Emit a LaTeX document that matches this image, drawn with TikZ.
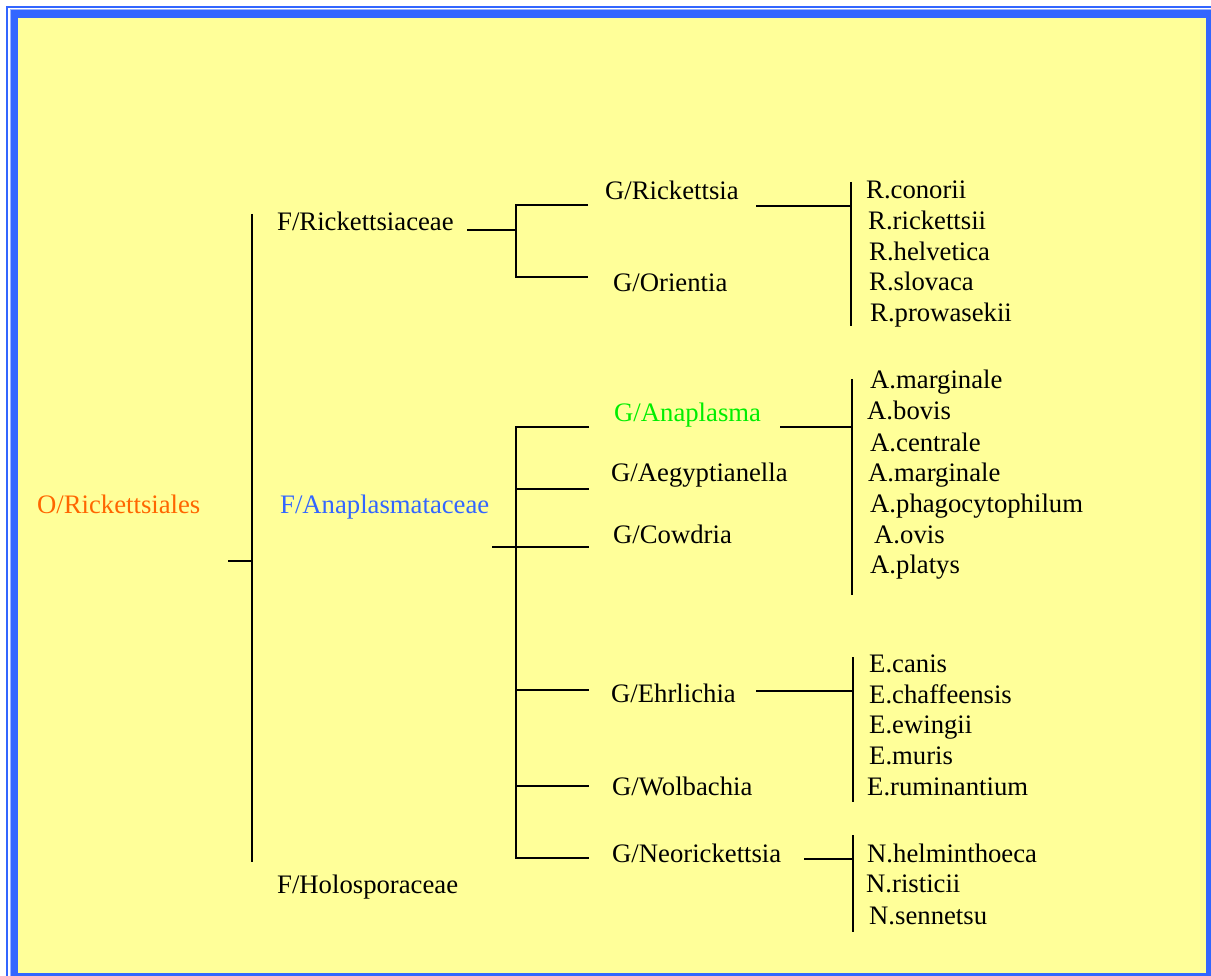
\documentclass[tikz,border=0pt]{standalone}
\usepackage{fontspec}
\setmainfont{Liberation Serif}
\definecolor{bgyellow}{HTML}{FFFF99}
\definecolor{frameblue}{HTML}{3366FF}
\definecolor{lightblue}{HTML}{99B3FF}
\definecolor{ordorange}{HTML}{FF6600}
\definecolor{famblue}{HTML}{3366FF}
\definecolor{gengreen}{HTML}{00EE00}
\begin{document}
\begin{tikzpicture}[x=1pt,y=-1pt,
  lbl/.style={anchor=base west, inner sep=0pt, font=\fontsize{26.7}{30}\selectfont},
  br/.style={line width=2pt, black}]
% frame
\fill[white] (0,0) rectangle (1211,976);
\fill[frameblue] (6,6) rectangle (1211,976);
\fill[white] (8,8) rectangle (1211,976);
\fill[lightblue] (9.5,9.5) rectangle (1211,976);
\fill[frameblue] (10.5,10.5) rectangle (1211,976);
\fill[bgyellow] (18,18) rectangle (1206,973);
\useasboundingbox (0,0) rectangle (1211,976);

% labels
\node[lbl, text=ordorange] (ord) at (37,513) {O/Rickettsiales};
\node[lbl] (fRick) at (277,231) {F/Rickettsiaceae};
\node[lbl, text=famblue] (fAnap) at (280,513) {F/Anaplasmataceae};
\node[lbl] (fHolo) at (277,893) {F/Holosporaceae};

\node[lbl] (gRick) at (605,200) {G/Rickettsia};
\node[lbl] (gOrie) at (613,292) {G/Orientia};
\node[lbl, text=gengreen] (gAnap) at (614,421) {G/Anaplasma};
\node[lbl] (gAegy) at (611,481) {G/Aegyptianella};
\node[lbl] (gCowd) at (613,543) {G/Cowdria};
\node[lbl] (gEhrl) at (611,702) {G/Ehrlichia};
\node[lbl] (gWolb) at (612,795) {G/Wolbachia};
\node[lbl] (gNeor) at (612,862) {G/Neorickettsia};

\node[lbl] (r1) at (866,199) {R.conorii};
\node[lbl] (r2) at (868,230) {R.rickettsii};
\node[lbl] (r3) at (869,261) {R.helvetica};
\node[lbl] (r4) at (869,291) {R.slovaca};
\node[lbl] (r5) at (870,322) {R.prowasekii};

\node[lbl] (a1) at (870,389) {A.marginale};
\node[lbl] (a2) at (867,420) {A.bovis};
\node[lbl] (a3) at (870,451) {A.centrale};
\node[lbl] (a4) at (868,481) {A.marginale};
\node[lbl] (a5) at (870,512) {A.phagocytophilum};
\node[lbl] (a6) at (874,543) {A.ovis};
\node[lbl] (a7) at (870,573) {A.platys};

\node[lbl] (e1) at (869,672) {E.canis};
\node[lbl] (e2) at (869,703) {E.chaffeensis};
\node[lbl] (e3) at (869,733) {E.ewingii};
\node[lbl] (e4) at (869,764) {E.muris};
\node[lbl] (e5) at (867,795) {E.ruminantium};

\node[lbl] (n1) at (867,862) {N.helminthoeca};
\node[lbl] (n2) at (866,892) {N.risticii};
\node[lbl] (n3) at (869,924) {N.sennetsu};

% junction coordinates
\coordinate (oIn) at (228,561);
\coordinate (oJ) at (252,561);
\coordinate (oTop) at (252,214);
\coordinate (oBot) at (252,862);

\coordinate (frIn) at (467,230);
\coordinate (frJ) at (516,230);
\coordinate (frA) at (588,205);
\coordinate (frB) at (588,277);
\coordinate (frTop) at (516,205);
\coordinate (frBot) at (516,277);

\coordinate (grIn) at (756,206);
\coordinate (grJ) at (851,206);
\coordinate (grTop) at (851,182);
\coordinate (grBot) at (851,326);

\coordinate (faIn) at (492,547);
\coordinate (faJ) at (516,547);
\coordinate (faTop) at (516,427);
\coordinate (faBot) at (516,858);
\coordinate (fa1) at (589,427);
\coordinate (fa2) at (589,489);
\coordinate (fa3) at (589,547);
\coordinate (fa4) at (589,690);
\coordinate (fa5) at (589,786);
\coordinate (fa6) at (589,858);
\coordinate (fa2J) at (516,489);
\coordinate (fa4J) at (516,690);
\coordinate (fa5J) at (516,786);

\coordinate (gaIn) at (780,427);
\coordinate (gaJ) at (852,427);
\coordinate (gaTop) at (852,379);
\coordinate (gaBot) at (852,595);

\coordinate (geIn) at (756,691);
\coordinate (geJ) at (853,691);
\coordinate (geTop) at (853,657);
\coordinate (geBot) at (853,802);

\coordinate (gnIn) at (804,859);
\coordinate (gnJ) at (853,859);
\coordinate (gnTop) at (853,835);
\coordinate (gnBot) at (853,932);

% connectors
\draw[br] (oIn) -- (oJ);
\draw[br] (oTop) -- (oBot);

\draw[br] (frIn) -- (frJ);
\draw[br] (frA) -- (frTop) -- (frBot) -- (frB);

\draw[br] (grIn) -- (grJ);
\draw[br] (grTop) -- (grBot);

\draw[br] (faIn) -- (faJ);
\draw[br] (fa1) -- (faTop) -- (faBot) -- (fa6);
\draw[br] (fa2J) -- (fa2);
\draw[br] (faJ) -- (fa3);
\draw[br] (fa4J) -- (fa4);
\draw[br] (fa5J) -- (fa5);

\draw[br] (gaIn) -- (gaJ);
\draw[br] (gaTop) -- (gaBot);

\draw[br] (geIn) -- (geJ);
\draw[br] (geTop) -- (geBot);

\draw[br] (gnIn) -- (gnJ);
\draw[br] (gnTop) -- (gnBot);
\end{tikzpicture}
\end{document}
